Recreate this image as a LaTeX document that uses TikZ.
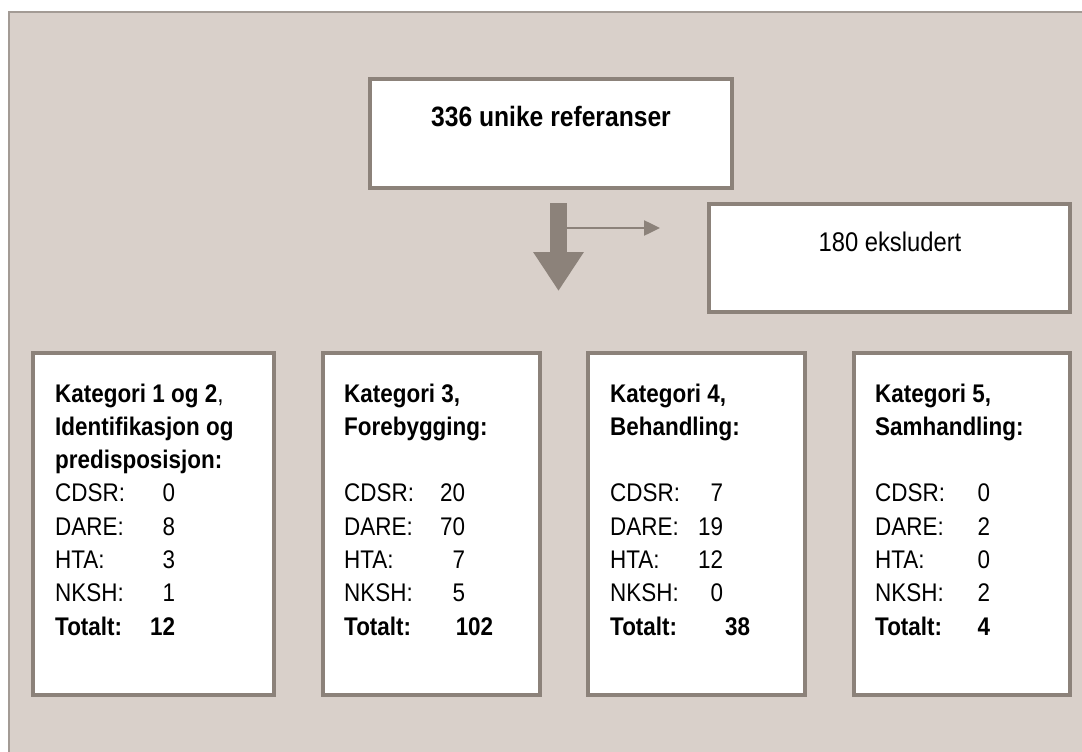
\documentclass[tikz,border=0pt]{standalone}
\usepackage{fontspec}
\setmainfont{Liberation Sans}[FakeStretch=0.88]
\usetikzlibrary{arrows.meta}
\definecolor{ramme}{RGB}{140,130,122}
\definecolor{bakgrunn}{RGB}{217,208,202}
\newcommand{\tall}[3]{\makebox[#2][l]{#1\hfill #3}}

\begin{document}
\begin{tikzpicture}[x=1pt, y=-1pt,
    boks/.style={draw=ramme, line width=4pt, fill=white, rectangle, inner sep=0pt},
    tekst/.style={inner sep=0pt, anchor=base west, font=\fontsize{25.5}{33.3}\selectfont},
    pil/.style={draw=ramme, line width=2.5pt, -{Triangle[length=16pt, width=15pt]}}]
  \useasboundingbox (0,0) rectangle (1082,752);
  \fill[white] (0,0) rectangle (1082,752);
  \draw[fill=bakgrunn, draw=ramme!80!white, line width=2pt] (9,12) rectangle (1100,770);

  % top og ekskluderte
  \node[boks, minimum width=362pt, minimum height=109pt] (refs) at (551,133.5) {};
  \node[anchor=base, inner sep=0pt, font=\bfseries\fontsize{28}{34}\selectfont] (refstxt) at (551,126) {336 unike referanser};
  \node[boks, minimum width=361pt, minimum height=108pt] (ekskl) at (889.5,258) {};
  \node[anchor=base, inner sep=0pt, font=\fontsize{27}{33}\selectfont] (eksklTxt) at (890,251) {180 eksludert};

  \coordinate (dtop) at (558.5,203);
  \coordinate (dtip) at (558.5,291);
  \coordinate (sidefra) at (567,228);
  \coordinate (sidetil) at (660,228);
  \draw[draw=ramme, line width=17pt, -{Triangle[length=39pt, width=48pt]}] (dtop) -- (dtip);
  \draw[pil] (sidefra) -- (sidetil);

  % kategorier
  \node[boks, minimum width=241pt, minimum height=342pt] (k12) at (153.5,524) {};
  \node[boks, minimum width=217pt, minimum height=342pt] (k3) at (431.5,524) {};
  \node[boks, minimum width=217pt, minimum height=342pt] (k4) at (696.5,524) {};
  \node[boks, minimum width=216pt, minimum height=342pt] (k5) at (962,524) {};

  \node[tekst] (k12txt) at (55,402) {\begin{tabular}[t]{@{}l@{}}
      \textbf{Kategori 1 og 2},\\
      \textbf{Identifikasjon og}\\
      \textbf{predisposisjon:}\\
      \tall{CDSR:}{120pt}{0}\\
      \tall{DARE:}{120pt}{8}\\
      \tall{HTA:}{120pt}{3}\\
      \tall{NKSH:}{120pt}{1}\\
      \textbf{\tall{Totalt:}{120pt}{12}}
    \end{tabular}};
  \node[tekst] (k3txt) at (344,402) {\begin{tabular}[t]{@{}l@{}}
      \textbf{Kategori 3,}\\
      \textbf{Forebygging:}\\
      \\
      \tall{CDSR:}{121pt}{20}\\
      \tall{DARE:}{121pt}{70}\\
      \tall{HTA:}{121pt}{7}\\
      \tall{NKSH:}{121pt}{5}\\
      \textbf{\tall{Totalt:}{149pt}{102}}
    \end{tabular}};
  \node[tekst] (k4txt) at (610,402) {\begin{tabular}[t]{@{}l@{}}
      \textbf{Kategori 4,}\\
      \textbf{Behandling:}\\
      \\
      \tall{CDSR:}{113pt}{7}\\
      \tall{DARE:}{113pt}{19}\\
      \tall{HTA:}{113pt}{12}\\
      \tall{NKSH:}{113pt}{0}\\
      \textbf{\tall{Totalt:}{140pt}{38}}
    \end{tabular}};
  \node[tekst] (k5txt) at (875,402) {\begin{tabular}[t]{@{}l@{}}
      \textbf{Kategori 5,}\\
      \textbf{Samhandling:}\\
      \\
      \tall{CDSR:}{115pt}{0}\\
      \tall{DARE:}{115pt}{2}\\
      \tall{HTA:}{115pt}{0}\\
      \tall{NKSH:}{115pt}{2}\\
      \textbf{\tall{Totalt:}{115pt}{4}}
    \end{tabular}};
\end{tikzpicture}
\end{document}
